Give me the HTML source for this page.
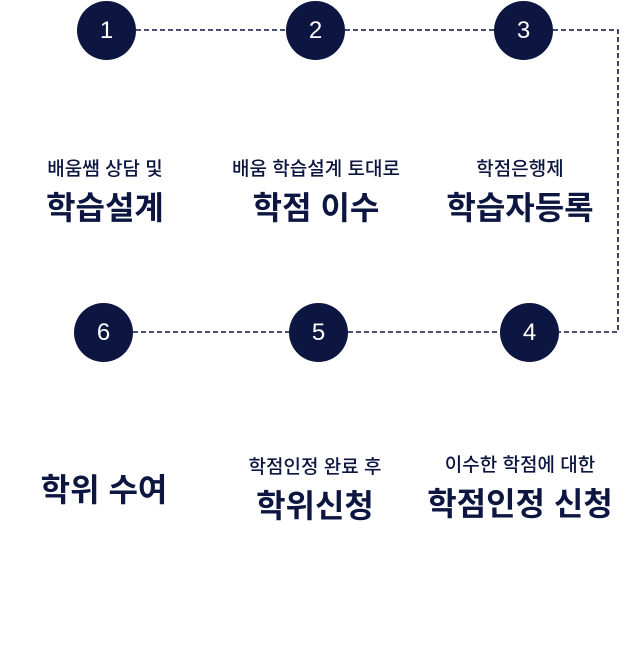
<!DOCTYPE html>
<html><head><meta charset="utf-8"><style>
body{margin:0;width:640px;height:672px;background:#fff;position:relative;overflow:hidden;font-family:"Liberation Sans","Noto Sans CJK KR",sans-serif;color:#0c1640}
.c{position:absolute;width:59px;height:59px;border-radius:50%;background:#0c1640;color:#fff;font-size:24px;display:flex;align-items:center;justify-content:center}
.t{position:absolute;width:240px;text-align:center}
.s{font-size:19px;line-height:22px;font-weight:500}
.b{font-size:32px;font-weight:bold;line-height:40px;margin-top:7px}
svg{position:absolute;left:0;top:0}
</style></head><body>
<svg width="640" height="672"><g stroke="#0c1640" stroke-width="1.6" stroke-dasharray="5,3" fill="none">
<line x1="136" y1="30" x2="286" y2="30"/><line x1="345" y1="30" x2="494" y2="30"/>
<polyline points="553,30 618,30 618,332 559,332"/>
<line x1="133" y1="332" x2="289" y2="332"/><line x1="348" y1="332" x2="500" y2="332"/>
</g></svg>
<div class="c" style="left:77px;top:1px">1</div>
<div class="c" style="left:286px;top:1px">2</div>
<div class="c" style="left:494px;top:1px">3</div>
<div class="c" style="left:74px;top:303px">6</div>
<div class="c" style="left:289px;top:303px">5</div>
<div class="c" style="left:500px;top:303px">4</div>
<div class="t" style="left:-15px;top:159px"><div class="s">배움쌤 상담 및</div><div class="b">학습설계</div></div>
<div class="t" style="left:196px;top:159px"><div class="s">배움 학습설계 토대로</div><div class="b">학점 이수</div></div>
<div class="t" style="left:400px;top:159px"><div class="s">학점은행제</div><div class="b">학습자등록</div></div>
<div class="t" style="left:-16px;top:463px"><div class="b">학위 수여</div></div>
<div class="t" style="left:195px;top:457px"><div class="s">학점인정 완료 후</div><div class="b">학위신청</div></div>
<div class="t" style="left:400px;top:455px"><div class="s">이수한 학점에 대한</div><div class="b">학점인정 신청</div></div>
</body></html>
